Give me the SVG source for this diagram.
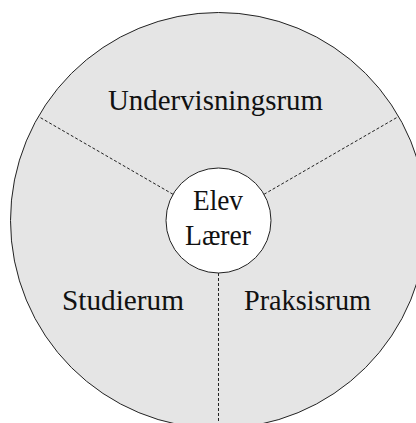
<svg xmlns="http://www.w3.org/2000/svg" width="416" height="423" viewBox="0 0 416 423">
<style>
.lbl{font-family:"Liberation Serif","DejaVu Serif",serif;font-size:30px;fill:#111;text-anchor:middle}
.div{stroke:#222;stroke-width:1;stroke-dasharray:3,2;fill:none}
</style>
<rect width="416" height="423" fill="#fff"/>
<g id="outer">
<circle cx="218.5" cy="220.5" r="208" fill="#e5e5e5" stroke="#222" stroke-width="1"/>
</g>
<g id="connectors">
<line class="div" x1="173" y1="194.3" x2="38.4" y2="116.5"/>
<line class="div" x1="264" y1="194.3" x2="398.6" y2="116.5"/>
<line class="div" x1="218.5" y1="273" x2="218.5" y2="428.5"/>
</g>
<g id="undervisningsrum"><text class="lbl" x="215.5" y="110" textLength="215" lengthAdjust="spacingAndGlyphs">Undervisningsrum</text></g>
<g id="studierum"><text class="lbl" x="123" y="310" textLength="122" lengthAdjust="spacingAndGlyphs">Studierum</text></g>
<g id="praksisrum"><text class="lbl" x="307.5" y="310" textLength="127" lengthAdjust="spacingAndGlyphs">Praksisrum</text></g>
<g id="center">
<circle cx="218.5" cy="220.5" r="52.5" fill="#fff" stroke="#222" stroke-width="1"/>
<text class="lbl" x="218" y="210" textLength="50" lengthAdjust="spacingAndGlyphs">Elev</text>
<text class="lbl" x="218" y="245" textLength="66" lengthAdjust="spacingAndGlyphs">Lærer</text>
</g>
</svg>
